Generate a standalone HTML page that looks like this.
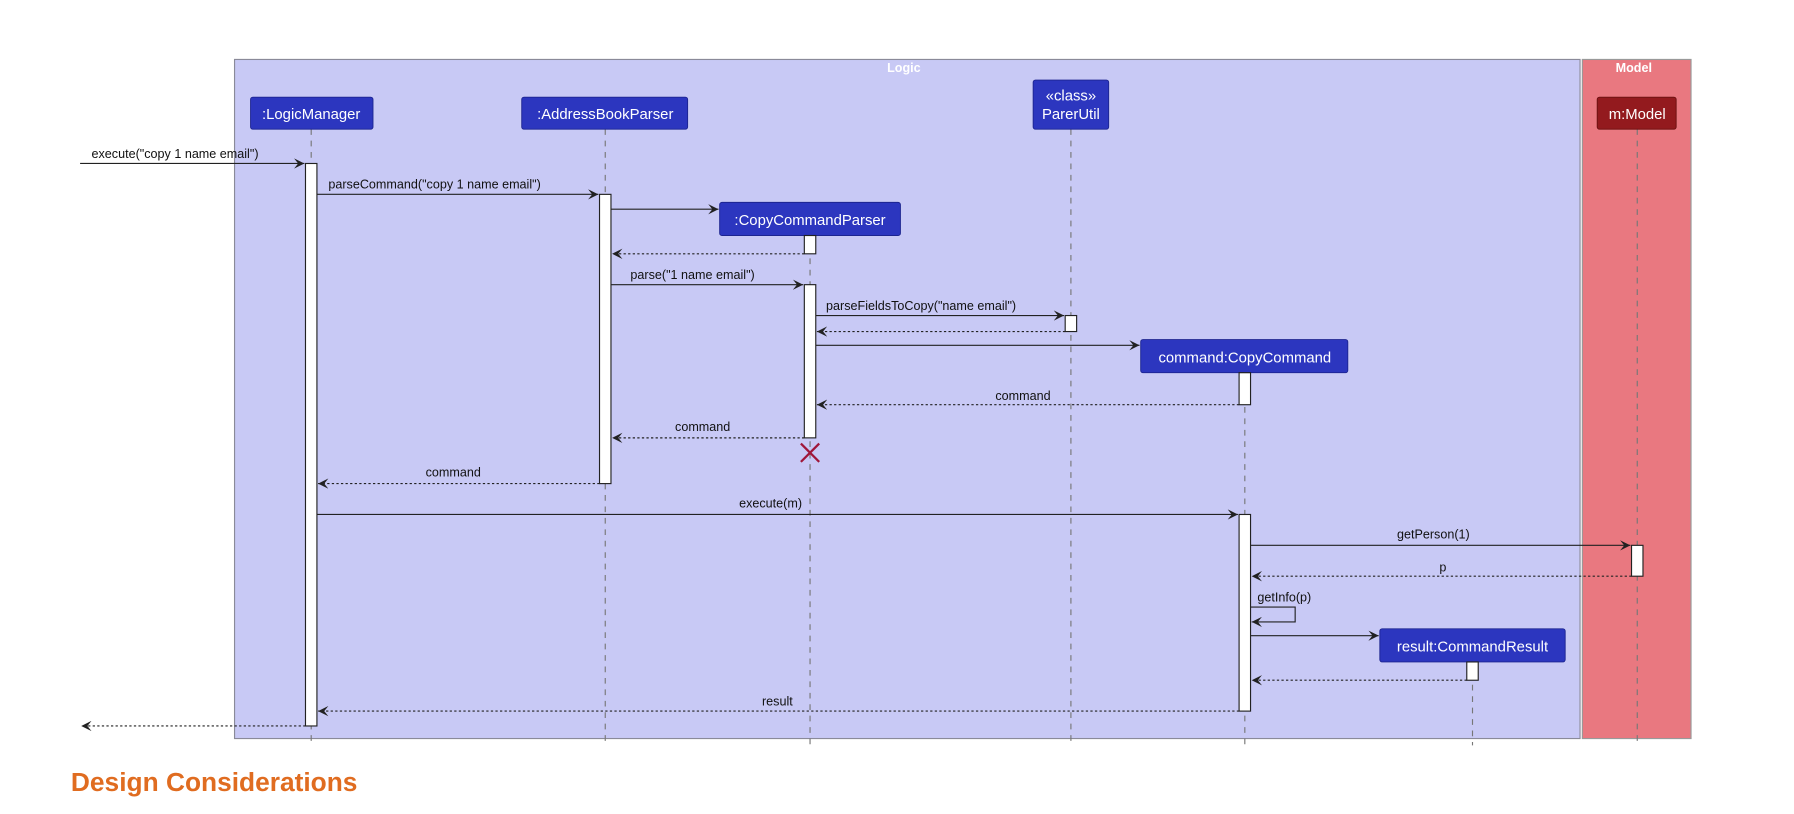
<!DOCTYPE html>
<html><head><meta charset="utf-8"><style>
html,body{margin:0;padding:0;background:#fff;width:1794px;height:814px;overflow:hidden}
svg{display:block}
text{font-family:"Liberation Sans","DejaVu Sans",sans-serif}
</style></head><body>
<svg width="1794" height="814" viewBox="0 0 1568 712" preserveAspectRatio="none" xmlns="http://www.w3.org/2000/svg">
<defs>
<marker id="a" viewBox="0 0 10 10" refX="10" refY="5" markerWidth="9" markerHeight="9" orient="auto-start-reverse" markerUnits="userSpaceOnUse"><path d="M0,0 L10,5 L0,10 L4,5 Z" fill="#222"/></marker>
</defs>
<rect x="205" y="52" width="1176" height="594" fill="#c8c9f5" stroke="#8a8a99" stroke-width="1"/>
<rect x="1383" y="52" width="95" height="594" fill="#e97880" stroke="#999" stroke-width="1"/>
<text x="790" y="63" font-size="11" font-weight="bold" fill="#fff" text-anchor="middle">Logic</text>
<text x="1428" y="63" font-size="11" font-weight="bold" fill="#fff" text-anchor="middle">Model</text>
<g stroke="#777" stroke-dasharray="5,5" stroke-width="1">
<line x1="272" y1="113" x2="272" y2="652"/>
<line x1="529" y1="113" x2="529" y2="652"/>
<line x1="708" y1="206" x2="708" y2="652"/>
<line x1="936" y1="113" x2="936" y2="652"/>
<line x1="1088" y1="326" x2="1088" y2="652"/>
<line x1="1287" y1="579" x2="1287" y2="652"/>
<line x1="1431" y1="113" x2="1431" y2="652"/>
</g>
<g fill="#2c36bf" stroke="#1c2490" stroke-width="0.8">
<rect x="219" y="85" width="107" height="28" rx="2"/>
<rect x="456" y="85" width="145" height="28" rx="2"/>
<rect x="903" y="70" width="66" height="43" rx="2"/>
<rect x="629" y="177" width="158" height="29" rx="2"/>
<rect x="997" y="297" width="181" height="29" rx="2"/>
<rect x="1206" y="550" width="162" height="29" rx="2"/>
</g>
<rect x="1396" y="85" width="69" height="28" rx="2" fill="#931a1e" stroke="#6a1010" stroke-width="0.8"/>
<g fill="#fff" font-size="13" text-anchor="middle">
<text x="272" y="104">:LogicManager</text>
<text x="529" y="104">:AddressBookParser</text>
<text x="936" y="88">«class»</text>
<text x="936" y="104">ParerUtil</text>
<text x="708" y="197">:CopyCommandParser</text>
<text x="1088" y="317">command:CopyCommand</text>
<text x="1287" y="570">result:CommandResult</text>
<text x="1431" y="104">m:Model</text>
</g>
<g fill="#fff" stroke="#222" stroke-width="1">
<rect x="267" y="143" width="10" height="492"/>
<rect x="524" y="170" width="10" height="253"/>
<rect x="703" y="206" width="10" height="16"/>
<rect x="703" y="249" width="10" height="134"/>
<rect x="931" y="276" width="10" height="14"/>
<rect x="1083" y="326" width="10" height="28"/>
<rect x="1083" y="450" width="10" height="172"/>
<rect x="1282" y="579" width="10" height="16"/>
<rect x="1426" y="477" width="10" height="27"/>
</g>
<g stroke="#a0163a" stroke-width="2"><line x1="700" y1="388" x2="716" y2="404"/><line x1="716" y1="388" x2="700" y2="404"/></g>
<g stroke="#222" stroke-width="1" fill="none" marker-end="url(#a)">
<line x1="70" y1="143" x2="266" y2="143"/>
<line x1="277" y1="170" x2="523" y2="170"/>
<line x1="534" y1="183" x2="628" y2="183"/>
<line x1="703" y1="222" x2="535" y2="222" stroke-dasharray="2,2"/>
<line x1="534" y1="249" x2="702" y2="249"/>
<line x1="713" y1="276" x2="930" y2="276"/>
<line x1="931" y1="290" x2="714" y2="290" stroke-dasharray="2,2"/>
<line x1="713" y1="302" x2="996" y2="302"/>
<line x1="1083" y1="354" x2="714" y2="354" stroke-dasharray="2,2"/>
<line x1="703" y1="383" x2="535" y2="383" stroke-dasharray="2,2"/>
<line x1="524" y1="423" x2="278" y2="423" stroke-dasharray="2,2"/>
<line x1="277" y1="450" x2="1082" y2="450"/>
<line x1="1093" y1="477" x2="1425" y2="477"/>
<line x1="1426" y1="504" x2="1094" y2="504" stroke-dasharray="2,2"/>
<polyline points="1093,531 1132,531 1132,544 1094,544"/>
<line x1="1093" y1="556" x2="1205" y2="556"/>
<line x1="1282" y1="595" x2="1094" y2="595" stroke-dasharray="2,2"/>
<line x1="1083" y1="622" x2="278" y2="622" stroke-dasharray="2,2"/>
<line x1="267" y1="635" x2="71" y2="635" stroke-dasharray="2,2"/>
</g>
<g fill="#111" font-size="11">
<text x="80" y="138">execute("copy 1 name email")</text>
<text x="287" y="165">parseCommand("copy 1 name email")</text>
<text x="551" y="244">parse("1 name email")</text>
<text x="722" y="271">parseFieldsToCopy("name email")</text>
<text x="870" y="350">command</text>
<text x="590" y="377">command</text>
<text x="372" y="417">command</text>
<text x="646" y="444">execute(m)</text>
<text x="1221" y="471">getPerson(1)</text>
<text x="1258" y="500">p</text>
<text x="1099" y="526">getInfo(p)</text>
<text x="666" y="617">result</text>
</g>
<text x="62" y="692" font-size="23" font-weight="bold" fill="#e06c20">Design Considerations</text>
</svg>
</body></html>
